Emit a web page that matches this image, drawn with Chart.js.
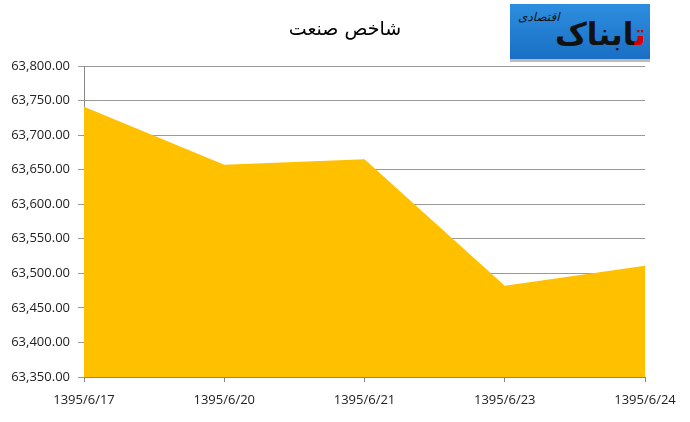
<!DOCTYPE html>
<html>
<head>
<meta charset="utf-8">
<script src="https://cdn.jsdelivr.net/npm/chart.js@4"></script>
<style>
  body { margin: 0; background: #fff; }
  #wrap { position: relative; width: 690px; height: 422px; }
  #title {
    position: absolute; left: 245px; top: 17px; width: 200px; text-align: center;
    font-family: "DejaVu Sans", sans-serif; font-size: 19px; color: #000;
    direction: rtl;
  }
  #logo {
    position: absolute; left: 510px; top: 4px; width: 140px; height: 55px;
    background: linear-gradient(#2d8ee0, #1a6fc4);
    font-family: "DejaVu Sans", sans-serif; direction: rtl;
    border-bottom: 3px solid #bbb;
    overflow: hidden;
  }
  #logo .big { position: absolute; right: 4px; top: 12px; font-size: 31px; font-weight: bold; color: #111; }
  #logo .big span { color: #d40000; }
  #logo .small { position: absolute; left: 8px; top: 6px; font-size: 12px; color: #111; font-style: italic; }
</style>
</head>
<body>
<div id="wrap">
  <canvas id="chart" width="690" height="422"></canvas>
  <div id="title">شاخص صنعت</div>
  <div id="logo"><div class="big"><span>ت</span>ابناک</div><div class="small">اقتصادی</div></div>
</div>
<script>
// data
const dates = ['1395/6/17', '1395/6/20', '1395/6/21', '1395/6/23', '1395/6/24'];
const industryIndex = [63741, 63657, 63665, 63482, 63511];
const yMin = 63350;
const yMax = 63800;
const yStep = 50;

const ctx = document.getElementById('chart').getContext('2d');
new Chart(ctx, {
  type: 'line',
  data: {
    labels: dates,
    datasets: [{
      data: industryIndex,
      backgroundColor: '#FFC000',
      borderWidth: 0,
      pointRadius: 0,
      fill: 'start',
      tension: 0
    }]
  },
  options: {
    responsive: false,
    animation: false,
    layout: { padding: { top: 66, right: 45, left: 0, bottom: 0 } },
    plugins: { legend: { display: false }, tooltip: { enabled: false } },
    scales: {
      x: {
        offset: false,
        afterFit: s => { s.height = 45; },
        grid: { drawOnChartArea: false, tickLength: 5, color: '#888' },
        border: { color: '#888' },
        ticks: {
          padding: 10, maxRotation: 0, color: '#222',
          font: { family: 'Open Sans', size: 13 }
        }
      },
      y: {
        min: yMin,
        max: yMax,
        afterFit: s => { s.width = 84; },
        grid: { color: '#999', tickLength: 6 },
        border: { color: '#888' },
        ticks: {
          stepSize: yStep, padding: 8, color: '#222',
          font: { family: 'Open Sans', size: 13 },
          callback: v => v.toLocaleString('en-US', { minimumFractionDigits: 2, maximumFractionDigits: 2 })
        }
      }
    }
  }
});
</script>
</body>
</html>
